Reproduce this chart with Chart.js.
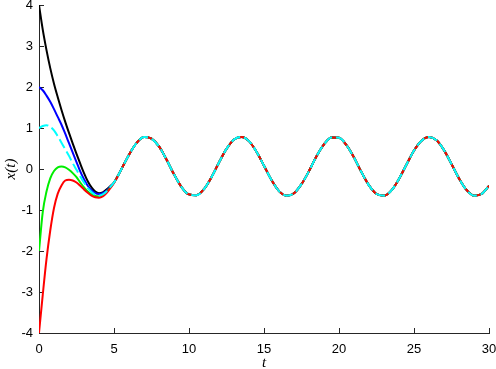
<!DOCTYPE html>
<html>
<head>
<meta charset="utf-8">
<script src="https://cdn.jsdelivr.net/npm/chart.js@4.4.1/dist/chart.umd.min.js"></script>
<style>
  html, body { margin: 0; padding: 0; background: #fff; }
  #wrap { width: 496px; height: 369px; }
</style>
</head>
<body>
<div id="wrap"><canvas id="trajChart"></canvas></div>
<script>
// time samples: dense where the curves differ, coarser once they have merged
const tTransient = [0, 0.25, 0.5, 0.75, 1, 1.25, 1.5, 1.75, 2, 2.25, 2.5, 2.75, 3, 3.25, 3.5, 3.75, 4, 4.25, 4.5, 4.75, 5];
const tSteady = [5.5, 6, 6.5, 7, 7.5, 8, 8.5, 9, 9.5, 10,
    10.5, 11, 11.5, 12, 12.5, 13, 13.5, 14, 14.5, 15,
    15.5, 16, 16.5, 17, 17.5, 18, 18.5, 19, 19.5, 20,
    20.5, 21, 21.5, 22, 22.5, 23, 23.5, 24, 24.5, 25,
    25.5, 26, 26.5, 27, 27.5, 28, 28.5, 29, 29.5, 30];

// early part of each trajectory
const blackStart = [4.0, 3.4, 2.9, 2.46, 2.08, 1.75, 1.44, 1.15, 0.88, 0.62, 0.37, 0.13, -0.1, -0.3, -0.45, -0.55, -0.59, -0.57, -0.5, -0.42, -0.33];
const blueStart = [2.0, 1.92, 1.79, 1.64, 1.46, 1.27, 1.08, 0.86, 0.63, 0.4, 0.17, -0.06, -0.25, -0.41, -0.52, -0.59, -0.61, -0.59, -0.53, -0.43, -0.33];
const cyanStart = [1.0, 1.05, 1.07, 1.03, 0.94, 0.8, 0.64, 0.48, 0.32, 0.14, -0.02, -0.18, -0.33, -0.46, -0.56, -0.63, -0.65, -0.62, -0.55, -0.44, -0.33];
const greenStart = [-2.0, -1.05, -0.55, -0.23, -0.05, 0.04, 0.06, 0.04, -0.02, -0.1, -0.2, -0.33, -0.45, -0.55, -0.62, -0.66, -0.67, -0.63, -0.56, -0.45, -0.33];
const redStart = [-4.0, -3.07, -2.2, -1.5, -0.95, -0.6, -0.4, -0.28, -0.26, -0.28, -0.33, -0.41, -0.5, -0.58, -0.65, -0.69, -0.7, -0.67, -0.59, -0.47, -0.34];

// common oscillation all curves settle onto
const steadyValues = [0.0, 0.35, 0.63, 0.78, 0.74, 0.55, 0.23, -0.13, -0.44, -0.62,
    -0.64, -0.49, -0.2, 0.16, 0.49, 0.72, 0.78, 0.68, 0.42, 0.08,
    -0.27, -0.54, -0.65, -0.59, -0.37, -0.05, 0.31, 0.6, 0.77, 0.76,
    0.58, 0.28, -0.08, -0.4, -0.61, -0.65, -0.52, -0.24, 0.11, 0.45,
    0.69, 0.78, 0.7, 0.46, 0.12, -0.23, -0.51, -0.65, -0.61, -0.41];

const xTicks = [0, 5, 10, 15, 20, 25, 30];
const yTicks = [-4, -3, -2, -1, 0, 1, 2, 3, 4];

const tAll = tTransient.concat(tSteady);

function toPoints(start) {
    const ys = start.concat(steadyValues);
    return tAll.map((t, i) => ({ x: t, y: ys[i] }));
}

function line(color, start, dash) {
    return {
        data: toPoints(start),
        borderColor: color,
        borderWidth: 2,
        borderDash: dash || [],
        pointRadius: 0,
        cubicInterpolationMode: 'monotone',
        fill: false
    };
}

// inward tick marks like the original figure
const inwardTicks = {
    id: 'inwardTicks',
    beforeDatasetsDraw(chart) {
        const ctx = chart.ctx;
        const area = chart.chartArea;
        const xs = chart.scales.x, ys = chart.scales.y;
        ctx.save();
        ctx.strokeStyle = '#262626';
        ctx.lineWidth = 1;
        ctx.beginPath();
        xTicks.forEach(v => {
            const px = Math.round(xs.getPixelForValue(v)) + 0.5;
            ctx.moveTo(px, area.bottom);
            ctx.lineTo(px, area.bottom - 5);
        });
        yTicks.forEach(v => {
            const py = Math.round(ys.getPixelForValue(v)) + 0.5;
            ctx.moveTo(area.left, py);
            ctx.lineTo(area.left + 5, py);
        });
        ctx.stroke();
        ctx.restore();
    }
};

// drop the extra room chart.js keeps for half-labels at the ends
function noEndPadding(scale) {
    scale.paddingTop = 0;
    scale.paddingBottom = 0;
    scale.paddingLeft = 0;
    scale.paddingRight = 0;
}

const tickFont = { family: '"Liberation Sans", Arial, sans-serif', size: 13 };

new Chart(document.getElementById('trajChart'), {
    type: 'line',
    data: {
        // first dataset is drawn on top: dashed cyan over red
        datasets: [
            line('#00ffff', cyanStart, [10, 4]),
            line('#ff0000', redStart),
            line('#00ee00', greenStart),
            line('#0000ff', blueStart),
            line('#000000', blackStart)
        ]
    },
    options: {
        responsive: true,
        maintainAspectRatio: false,
        animation: false,
        layout: { autoPadding: false, padding: { top: 5, right: 7, left: 0, bottom: 0 } },
        plugins: { legend: { display: false }, tooltip: { enabled: false } },
        scales: {
            x: {
                type: 'linear',
                min: 0,
                max: 30,
                afterBuildTicks: (scale) => { scale.ticks = xTicks.map(v => ({ value: v })); },
                afterFit: (scale) => { scale.height = 36; noEndPadding(scale); },
                grid: { display: false, drawTicks: false },
                border: { display: true, color: '#262626', width: 1 },
                ticks: { color: '#000', font: tickFont, padding: 9, maxRotation: 0 },
                title: {
                    display: true,
                    text: 't',
                    color: '#000',
                    font: { family: '"Liberation Serif", "DejaVu Serif", serif', size: 15, style: 'italic' },
                    padding: { top: 0, bottom: -3 }
                }
            },
            y: {
                type: 'linear',
                min: -4,
                max: 4,
                afterBuildTicks: (scale) => { scale.ticks = yTicks.map(v => ({ value: v })); },
                afterFit: (scale) => { scale.width = 39; noEndPadding(scale); },
                grid: { display: false, drawTicks: false },
                border: { display: true, color: '#262626', width: 1 },
                ticks: { color: '#000', font: tickFont, padding: 6 },
                title: {
                    display: true,
                    text: 'x(t)',
                    color: '#000',
                    font: { family: '"Liberation Serif", "DejaVu Serif", serif', size: 15, style: 'italic' },
                    padding: { top: 2, bottom: 0 }
                }
            }
        }
    },
    plugins: [inwardTicks]
});
</script>
</body>
</html>
